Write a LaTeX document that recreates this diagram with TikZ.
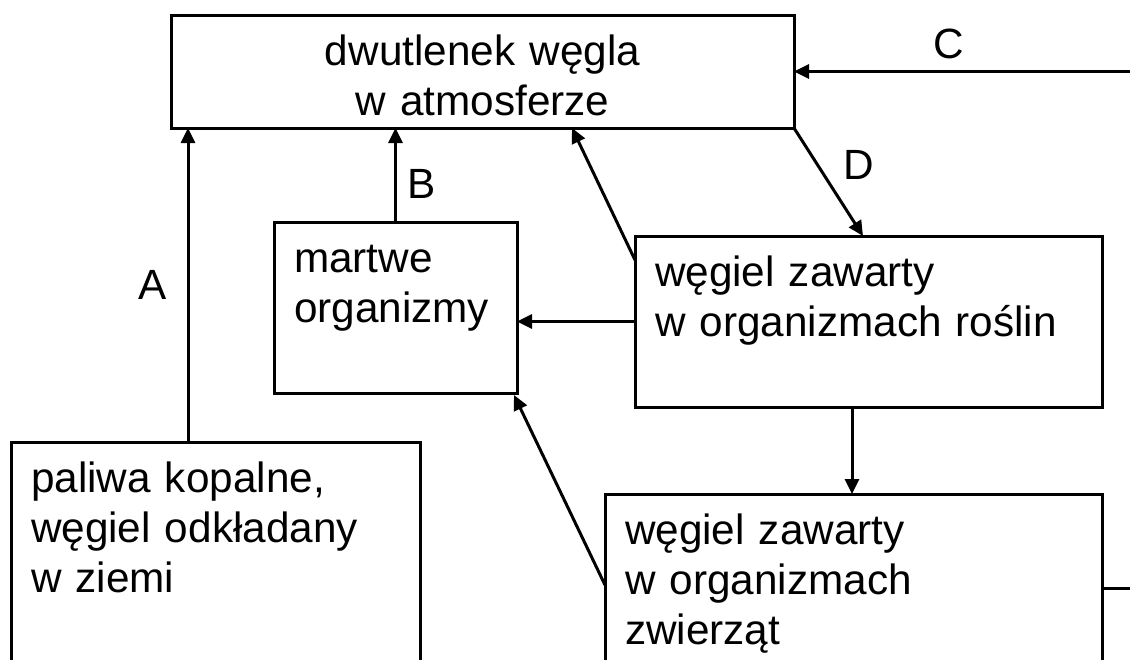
\documentclass[tikz,border=0pt]{standalone}
\usepackage{fontspec}
\setmainfont{Liberation Sans}
\usetikzlibrary{arrows.meta}
\newcommand{\duzy}{\fontsize{42.3}{50}\selectfont}

\begin{document}
\begin{tikzpicture}[x=1pt,y=-1pt,>={Triangle[length=15pt,width=14pt]}]
\tikzstyle{blok}=[draw,line width=3pt,anchor=north west,outer sep=0pt,inner xsep=20pt,inner ysep=0pt,text height=50pt,align=left,font=\duzy]
\tikzstyle{strz}=[->,line width=3pt]
\tikzstyle{lit}=[inner sep=0pt,font=\duzy]
\useasboundingbox (0,0) rectangle (1130,659);
\clip (0,0) rectangle (1130,659);
\node [blok,align=center,text width=583pt,text depth=63pt] (atm) at (171,15) {dwutlenek węgla\\w atmosferze};
\node [blok,text width=203pt,text depth=121pt] (mo) at (274,222) {martwe\\organizmy};
\node [blok,text width=427pt,text depth=121pt] (ros) at (635,236) {węgiel zawarty\\w organizmach roślin};
\node [blok,text width=457pt,text depth=200pt] (zw) at (605,494) {węgiel zawarty\\w organizmach\\zwierząt};
\node [blok,text width=369pt,text depth=200pt] (pal) at (11,442) {paliwa kopalne,\\węgiel odkładany\\w ziemi};
\coordinate (cp) at (1145,71.5);
\path[strz]
    ([xshift=177pt]pal.north west) edge node [lit,left=20pt] {A} ([xshift=17pt]atm.south west)
    (mo.north) edge node [lit,pos=0.4,right=10pt] {B} (mo.north |- atm.south)
    (atm.south east) edge node [lit,pos=0.34,right=25pt] {D} ([xshift=228pt]ros.north west)
    ([yshift=-24pt]ros.north west) edge ([xshift=401pt]atm.south west)
    (ros.west) edge (ros.west -| mo.east)
    ([xshift=217pt]ros.south west) edge ([xshift=247pt]zw.north west)
    ([yshift=-91pt]zw.north west) edge ([xshift=-3pt,yshift=-2pt]mo.south east);
\draw[strz] ([yshift=-94pt]zw.north east) -| (cp) -- node [lit,pos=0.56,above=11pt] {C} (atm.east);
\end{tikzpicture}
\end{document}
